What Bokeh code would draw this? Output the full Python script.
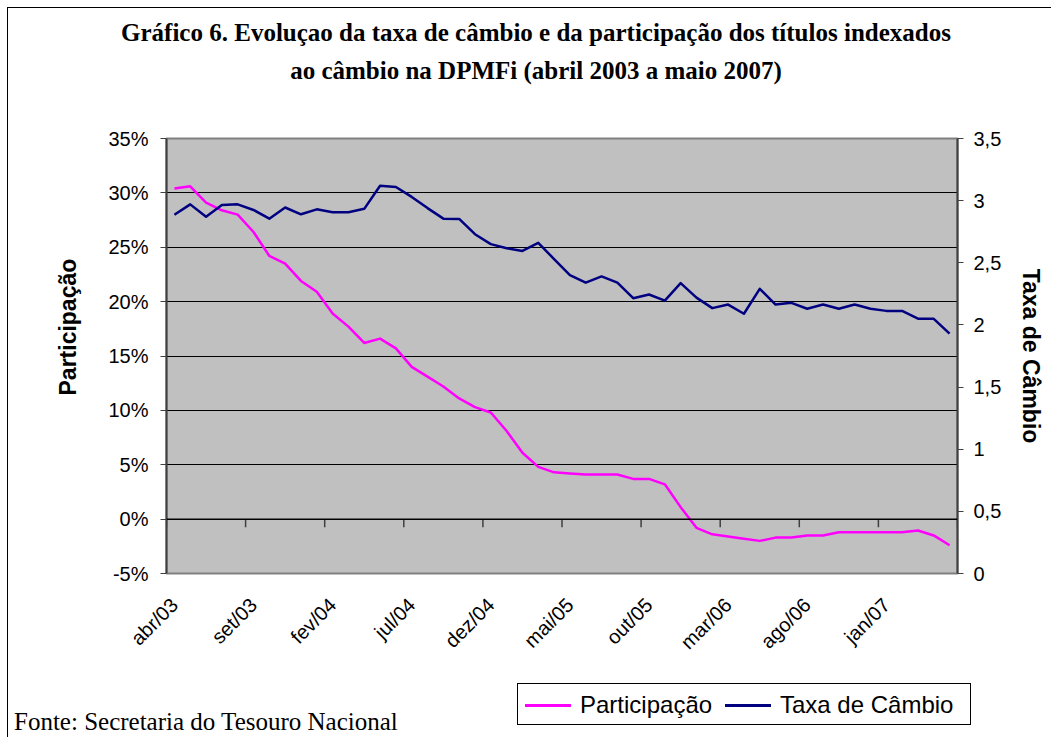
import math
from bokeh.plotting import figure
from bokeh.layouts import column
from bokeh.models import (Range1d, LinearAxis, FixedTicker, CustomJSTickFormatter,
                          PrintfTickFormatter, Span, Title, Div)
from bokeh.embed import file_html
from bokeh.resources import INLINE

months = ["abr/03", "mai/03", "jun/03", "jul/03", "ago/03", "set/03", "out/03", "nov/03", "dez/03",
          "jan/04", "fev/04", "mar/04", "abr/04", "mai/04", "jun/04", "jul/04", "ago/04", "set/04",
          "out/04", "nov/04", "dez/04", "jan/05", "fev/05", "mar/05", "abr/05", "mai/05", "jun/05",
          "jul/05", "ago/05", "set/05", "out/05", "nov/05", "dez/05", "jan/06", "fev/06", "mar/06",
          "abr/06", "mai/06", "jun/06", "jul/06", "ago/06", "set/06", "out/06", "nov/06", "dez/06",
          "jan/07", "fev/07", "mar/07", "abr/07", "mai/07"]

participacao = [30.4, 30.6, 29.1, 28.4, 28.0, 26.4, 24.2, 23.5, 21.9, 20.9,
                18.9, 17.7, 16.2, 16.6, 15.7, 14.0, 13.1, 12.2, 11.1, 10.3,
                9.8, 8.1, 6.1, 4.8, 4.3, 4.2, 4.1, 4.1, 4.1, 3.7,
                3.7, 3.2, 1.1, -0.8, -1.4, -1.6, -1.8, -2.0, -1.7, -1.7,
                -1.5, -1.5, -1.2, -1.2, -1.2, -1.2, -1.2, -1.05, -1.5, -2.4]

taxa_cambio = [2.886, 2.97, 2.87, 2.965, 2.97, 2.925, 2.855, 2.945, 2.89, 2.93,
               2.907, 2.907, 2.934, 3.12, 3.11, 3.03, 2.94, 2.855, 2.853, 2.73,
               2.65, 2.617, 2.595, 2.66, 2.53, 2.40, 2.34, 2.39, 2.34, 2.215,
               2.245, 2.196, 2.336, 2.22, 2.135, 2.164, 2.09, 2.29, 2.164, 2.178,
               2.13, 2.164, 2.13, 2.164, 2.13, 2.113, 2.113, 2.05, 2.049, 1.93]

pct_ticks = [-5, 0, 5, 10, 15, 20, 25, 30, 35]
taxa_ticks = [0, 0.5, 1, 1.5, 2, 2.5, 3, 3.5]
label_step = 5

series_names = ["Participação", "Taxa de Câmbio"]
title_lines = ["Gráfico 6. Evoluçao da taxa de câmbio e da participação dos títulos indexados",
               "ao câmbio na DPMFi (abril 2003 a maio 2007)"]
source_text = "Fonte: Secretaria do Tesouro Nacional"

PINK = "#FF00FF"
NAVY = "#000080"
SERIF = "'Liberation Serif', 'Times New Roman', serif"
SANS = "'Liberation Sans', Arial, sans-serif"

n = len(months)
x = [i + 0.5 for i in range(n)]

# ---------------- title strip ----------------
title_html = (
    '<div style="position:relative;width:1044px;height:100px;overflow:hidden;">'
    f'<div style="position:absolute;left:0;top:10px;width:1056px;text-align:center;'
    f'font-family:{SERIF};font-weight:bold;font-size:25px;line-height:30px;white-space:nowrap;color:black;">'
    f'{title_lines[0]}</div>'
    f'<div style="position:absolute;left:0;top:48px;width:1056px;text-align:center;'
    f'font-family:{SERIF};font-weight:bold;font-size:25px;line-height:30px;white-space:nowrap;color:black;">'
    f'{title_lines[1]}</div>'
    '</div>')
top_div = Div(text=title_html, width=1044, height=100, margin=0)

# ---------------- main chart ----------------
p = figure(width=1044, height=567, output_backend="svg", toolbar_location=None,
           x_range=Range1d(0, n), y_range=Range1d(-5, 35),
           min_border_left=158, min_border_right=95, min_border_top=30, min_border_bottom=102,
           background_fill_color="#C0C0C0", border_fill_color="white")
p.outline_line_color = "#808080"
p.outline_line_width = 2

p.extra_y_ranges = {"taxa": Range1d(0, 3.5)}

p.xgrid.visible = False
p.ygrid.ticker = FixedTicker(ticks=pct_ticks)
p.ygrid.grid_line_color = "black"
p.ygrid.grid_line_width = 1
p.ygrid.grid_line_alpha = 1

ya = p.yaxis[0]
ya.ticker = FixedTicker(ticks=pct_ticks)
ya.formatter = PrintfTickFormatter(format="%d%%")
ya.axis_line_color = "#404040"
ya.axis_line_width = 2
ya.major_tick_line_color = "#404040"
ya.major_tick_out = 6
ya.major_tick_in = 0
ya.minor_tick_line_color = None
ya.major_label_text_font = "Liberation Sans"
ya.major_label_text_font_size = "20px"
ya.major_label_text_color = "black"
ya.major_label_standoff = 12

ra = LinearAxis(y_range_name="taxa", ticker=FixedTicker(ticks=taxa_ticks),
                formatter=CustomJSTickFormatter(code="return String(tick).replace('.', ',');"))
ra.axis_line_color = "#404040"
ra.axis_line_width = 2
ra.major_tick_line_color = "#404040"
ra.major_tick_out = 6
ra.major_tick_in = 0
ra.minor_tick_line_color = None
ra.major_label_text_font = "Liberation Sans"
ra.major_label_text_font_size = "20px"
ra.major_label_text_color = "black"
ra.major_label_standoff = 10
ra.axis_label = series_names[1]
ra.axis_label_standoff = 14
ra.axis_label_text_font = "Liberation Sans"
ra.axis_label_text_font_style = "bold"
ra.axis_label_text_font_size = "23px"
ra.axis_label_text_color = "black"
p.add_layout(ra, "right")

xa = p.xaxis[0]
xa.ticker = FixedTicker(ticks=[i + 0.5 for i in range(0, n, label_step)])
xa.formatter = CustomJSTickFormatter(args=dict(labels=months),
                                     code="return labels[Math.floor(tick)] || '';")
xa.axis_line_color = None
xa.major_tick_line_color = None
xa.minor_tick_line_color = None
xa.major_label_orientation = math.pi / 4
xa.major_label_text_font = "Liberation Sans"
xa.major_label_text_font_size = "20px"
xa.major_label_text_color = "black"
xa.major_label_standoff = 22

# category axis crossing at 0, tick marks between categories
p.add_layout(Span(location=0, dimension="width", line_color="black", line_width=1.5))
bx = list(range(0, n + 1, label_step))
p.segment(x0=bx, y0=[0] * len(bx), x1=bx, y1=[-0.75] * len(bx),
          line_color="#404040", line_width=1.5)

p.line(x, participacao, line_color=PINK, line_width=2.5, line_join="round")
p.line(x, taxa_cambio, y_range_name="taxa", line_color=NAVY, line_width=2.5, line_join="round")

p.add_layout(Title(text=series_names[0], align="left", offset=178, standoff=49,
                   text_font="Liberation Sans", text_font_style="bold", text_font_size="23px",
                   text_color="black"), "left")

# ---------------- legend + source strip ----------------
def key(left, color):
    return (f'<div style="position:absolute;left:{left}px;top:20px;width:46px;height:0;'
            f'border-top:3px solid {color};"></div>')

def key_text(left, txt):
    return (f'<div style="position:absolute;left:{left}px;top:0;height:42px;line-height:42px;'
            f'font-family:{SANS};font-size:24px;white-space:nowrap;color:black;">{txt}</div>')

bottom_html = (
    '<div style="position:relative;width:1044px;height:63px;overflow:hidden;">'
    f'<div style="position:absolute;left:6px;top:32px;font-family:{SERIF};font-size:25px;'
    f'line-height:30px;white-space:nowrap;color:black;">{source_text}</div>'
    '<div style="position:absolute;left:509px;top:8px;width:454px;height:42px;'
    'border:1px solid black;background:white;">'
    + key(7, PINK) + key_text(62, series_names[0])
    + key(207, NAVY) + key_text(262, series_names[1]) +
    '</div></div>')
bottom_div = Div(text=bottom_html, width=1044, height=63, margin=0)

layout = column(top_div, p, bottom_div, spacing=0)
layout.margin = (8, 0, 0, 8)
layout.styles = {"box-shadow": "-1px -1px 0px 0px black"}

open("out.html", "w").write(file_html(layout, INLINE))
